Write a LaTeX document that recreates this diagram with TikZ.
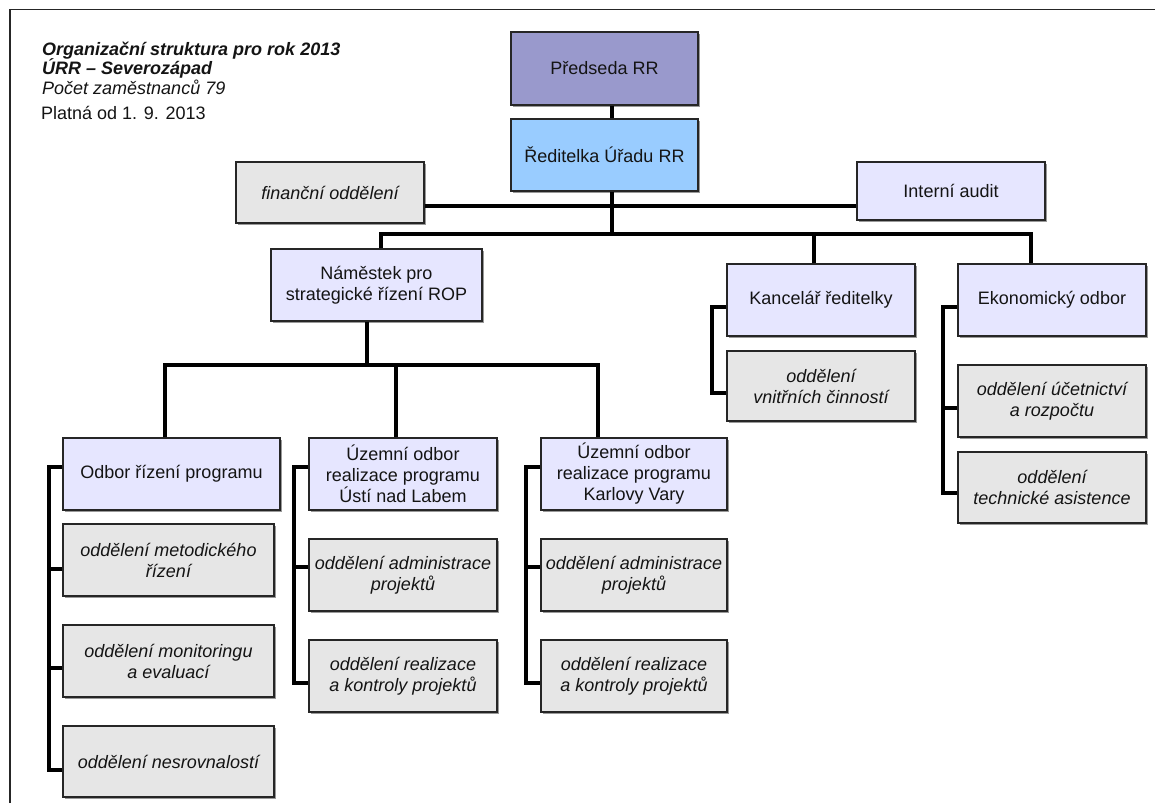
\documentclass[tikz,border=0pt]{standalone}
\usepackage{fontspec}
\setmainfont{Liberation Sans}
\usetikzlibrary{shadows}
\definecolor{boss}{HTML}{9999CC}
\definecolor{director}{HTML}{99CCFF}
\definecolor{unit}{HTML}{E6E6FF}
\definecolor{dept}{HTML}{E6E6E6}
\begin{document}
\begin{tikzpicture}[x=1pt,y=-1pt,
  box/.style={draw=black!85, line width=1.1pt, inner sep=2pt, align=center,
    font=\fontsize{18}{21}\selectfont, text=black!92,
    drop shadow={shadow xshift=1.5pt, shadow yshift=-1.5pt, fill=black!40, opacity=1}},
  bossbox/.style={box, fill=boss},
  dirbox/.style={box, fill=director},
  unitbox/.style={box, fill=unit},
  deptbox/.style={box, fill=dept, font=\fontsize{18}{21}\selectfont\itshape},
  conn/.style={line width=4pt, draw=black},
  head/.style={anchor=base west, inner sep=0pt, font=\fontsize{18}{21}\selectfont, text=black!92}
]
\useasboundingbox (0,0) rectangle (1155,803);
\fill[white] (0,0) rectangle (1155,803);

% page frame
\draw[line width=1.3pt, black!85] (10,803) -- (10,9.5) -- (1155,9.5);

% heading
\node[head, font=\fontsize{18}{21}\selectfont\bfseries\itshape] (t1) at (42,55) {Organizační struktura pro rok 2013};
\node[head, font=\fontsize{18}{21}\selectfont\bfseries\itshape] (t2) at (42,74) {ÚRR – Severozápad};
\node[head, font=\fontsize{18}{21}\selectfont\itshape] (t3) at (42,94.5) {Počet zaměstnanců 79};
\node[head] (t4) at (41,119) {Platná od 1. 9. 2013};

% top management
\node[bossbox, minimum width=187pt, minimum height=73pt] (pred) at (604.5,68.5) {Předseda RR};
\node[dirbox, minimum width=187pt, minimum height=72pt] (red) at (604.5,155) {Ředitelka Úřadu RR};
\node[deptbox, minimum width=188pt, minimum height=61pt] (fin) at (330,192.5) {finanční oddělení};
\node[unitbox, minimum width=188pt, minimum height=58pt] (audit) at (951,191) {Interní audit};

% second level
\node[unitbox, minimum width=211pt, minimum height=72pt] (nam) at (376.5,285) {Náměstek pro\\strategické řízení ROP};
\node[unitbox, minimum width=188pt, minimum height=72pt] (kanc) at (821,300) {Kancelář ředitelky};
\node[unitbox, minimum width=188pt, minimum height=72pt] (ekon) at (1052,300) {Ekonomický odbor};
\node[deptbox, minimum width=188pt, minimum height=70pt] (vnitr) at (821,386) {oddělení\\vnitřních činností};
\node[deptbox, minimum width=188pt, minimum height=72pt] (ucet) at (1052,401) {oddělení účetnictví\\a rozpočtu};
\node[deptbox, minimum width=188pt, minimum height=71pt] (tech) at (1052,487.5) {oddělení\\technické asistence};

% programme departments
\node[unitbox, minimum width=217pt, minimum height=72pt] (odbor) at (171.5,474) {Odbor řízení programu};
\node[deptbox, minimum width=211pt, minimum height=72pt] (metod) at (168.5,560) {oddělení metodického\\řízení};
\node[deptbox, minimum width=211pt, minimum height=72pt] (monit) at (168.5,661) {oddělení monitoringu\\a evaluací};
\node[deptbox, minimum width=211pt, minimum height=71pt] (nesr) at (168.5,761.5) {oddělení nesrovnalostí};

\node[unitbox, minimum width=188pt, minimum height=72pt] (unl) at (403,474) {Územní odbor\\realizace programu\\Ústí nad Labem};
\node[deptbox, minimum width=188pt, minimum height=72pt] (unla) at (403,575) {oddělení administrace\\projektů};
\node[deptbox, minimum width=188pt, minimum height=72pt] (unlr) at (403,676) {oddělení realizace\\a kontroly projektů};

\node[unitbox, minimum width=186pt, minimum height=72pt] (kv) at (634,474) {Územní odbor\\realizace programu\\Karlovy Vary};
\node[deptbox, minimum width=186pt, minimum height=72pt] (kva) at (634,575) {oddělení administrace\\projektů};
\node[deptbox, minimum width=186pt, minimum height=72pt] (kvr) at (634,676) {oddělení realizace\\a kontroly projektů};

% connectors: top
\draw[conn] ([xshift=7.5pt]pred.south) -- ([xshift=7.5pt]red.north);
\draw[conn] ([xshift=7.5pt]red.south) -- ++(0,44) coordinate (bus);
\draw[conn] ([yshift=-13.5pt]fin.east) -- ([yshift=-15pt]audit.west);
\draw[conn] ([xshift=4.5pt]nam.north) -- ++(0,-14) -| ([xshift=-21pt]ekon.north);
\draw[conn] ([xshift=-7pt]kanc.north) -- ++(0,-29);

% connectors: programme
\draw[conn] ([xshift=-9.5pt]nam.south) -- ++(0,45);
\draw[conn] ([xshift=-7pt]odbor.north) -- ++(0,-72) -| ([xshift=-36pt]kv.north);
\draw[conn] ([xshift=-7pt]unl.north) -- ++(0,-72);

% side brackets
\draw[conn] ([yshift=7pt]odbor.west) -- ++(-13,0) |- ([yshift=-8.5pt]nesr.west);
\draw[conn] ([yshift=-9pt]metod.west) -- ++(-13,0);
\draw[conn] ([yshift=-7pt]monit.west) -- ++(-13,0);

\draw[conn] ([yshift=7pt]unl.west) -- ++(-14,0) |- ([yshift=-7pt]unlr.west);
\draw[conn] ([yshift=8pt]unla.west) -- ++(-14,0);

\draw[conn] ([yshift=7pt]kv.west) -- ++(-14,0) |- ([yshift=-7pt]kvr.west);
\draw[conn] ([yshift=8pt]kva.west) -- ++(-14,0);

\draw[conn] ([yshift=-7pt]kanc.west) -- ++(-14,0) |- ([yshift=-7pt]vnitr.west);

\draw[conn] ([yshift=-7pt]ekon.west) -- ++(-14,0) |- ([yshift=-5.5pt]tech.west);
\draw[conn] ([yshift=-7pt]ucet.west) -- ++(-14,0);
\end{tikzpicture}
\end{document}
